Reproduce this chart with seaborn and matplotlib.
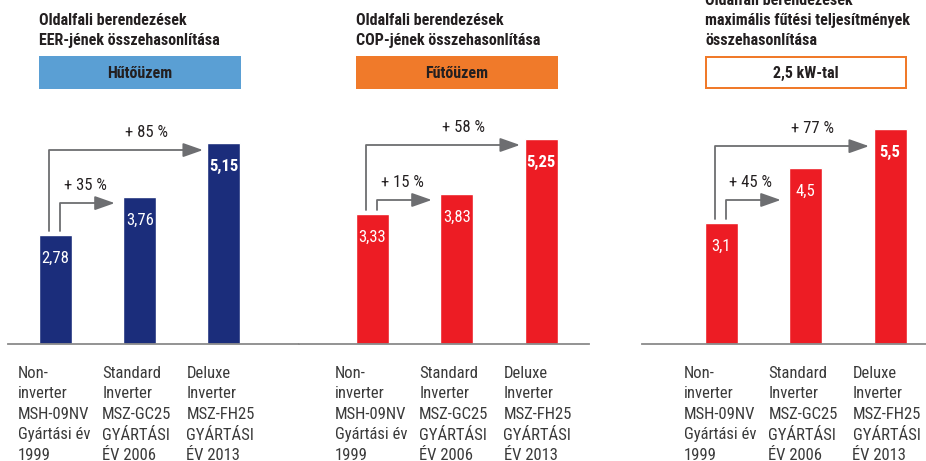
import matplotlib.pyplot as plt
from matplotlib import font_manager
from matplotlib.patches import Rectangle
import seaborn as sns


W, H = 926, 461

categories = [
    "Non-\ninverter\nMSH-09NV\nGyártási év\n1999",
    "Standard\nInverter\nMSZ-GC25\nGYÁRTÁSI\nÉV 2006",
    "Deluxe\nInverter\nMSZ-FH25\nGYÁRTÁSI\nÉV 2013",
]
eer_values = [2.78, 3.76, 5.15]
cop_values = [3.33, 3.83, 5.25]
heat_values = [3.1, 4.5, 5.5]

eer_gain = ["+ 35 %", "+ 85 %"]
cop_gain = ["+ 15 %", "+ 58 %"]
heat_gain = ["+ 45 %", "+ 77 %"]

# height of the elbow arrows (inner, outer)
eer_arrow_levels = [3.60, 4.96]
cop_arrow_levels = [3.68, 5.09]
heat_arrow_levels = [3.68, 5.06]

titles = [
    "Oldalfali berendezések\nEER-jének összehasonlítása",
    "Oldalfali berendezések\nCOP-jének összehasonlítása",
    "Oldalfali berendezések\nmaximális fűtési teljesítmények\nösszehasonlítása",
]
box_labels = ["Hűtőüzem", "Fűtőüzem", "2,5 kW-tal"]

NAVY = "#1b2d7b"
RED = "#ed1c24"
GREY = "#6d6e71"
BASE_GREY = "#8a8a8a"
BOX_BLUE = "#5a9fd4"
ORANGE = "#f07a2a"
TEXT = "#231f20"
LABEL = "#3a3a3a"

_available = {f.name for f in font_manager.fontManager.ttflist}
_narrow = next((n for n in ["Roboto Condensed", "Archivo Narrow", "PT Sans Narrow",
                            "IBM Plex Sans Condensed", "Liberation Sans Narrow",
                            "Liberation Sans"] if n in _available), "DejaVu Sans")
NARROW = [_narrow, "DejaVu Sans"]

PX_UNIT = 39.0      # pixels per unit of value
BASE_Y = 343.5      # baseline, pixels from top
TOP_Y = 100.0       # top of plotting area
STEP = 84.25        # pixels between bars
BAR_PX = 33.0
PT = 0.72           # points per pixel at dpi 100


def fig_x(px):
    return px / W


def fig_y(px):
    return 1 - px / H


def value_text(v):
    return f"{v:g}".replace(".", ",")


def draw_panel(fig, spec):
    c0 = spec["center0"]
    left, right = spec["extent"]
    ax = fig.add_axes([fig_x(left), fig_y(BASE_Y), (right - left) / W, (BASE_Y - TOP_Y) / H])
    half = BAR_PX / STEP / 2

    sns.barplot(x=categories, y=spec["values"], color=spec["color"], saturation=1,
                width=BAR_PX / STEP, ax=ax)
    ax.set_xlim((left - c0) / STEP, (right - c0) / STEP)
    ax.set_ylim(0, (BASE_Y - TOP_Y) / PX_UNIT)
    ax.set_xticks([])
    ax.set_yticks([])
    ax.set_xlabel("")
    ax.set_ylabel("")
    for side in ["top", "left", "right"]:
        ax.spines[side].set_visible(False)
    ax.spines["bottom"].set_color(BASE_GREY)
    ax.spines["bottom"].set_linewidth(1.3)

    vals = spec["values"]
    for i, v in enumerate(vals):
        ax.annotate(value_text(v), xy=(i, v), xytext=(0, -28 * PT), textcoords="offset points",
                    ha="center", va="baseline", color="white", fontsize=12,
                    fontweight="bold" if i == 2 else "normal", family=NARROW)
        # category label, one line at a time
        for j, line in enumerate(categories[i].split("\n")):
            ax.annotate(line, xy=(i - half, 0), xytext=(-21 * PT, -(34.5 + 20.5 * j) * PT),
                        textcoords="offset points", ha="left", va="baseline", color=LABEL,
                        fontsize=12, family=NARROW, annotation_clip=False)

    # elbow arrows: inner to bar 2, outer to bar 3
    starts = [-half + 21 / STEP, -half + 10 / STEP]
    tips = [1 - 25 / STEP, 2 - 21 / STEP]
    text_x = [0.35, 1.08]
    for k in range(2):
        level = spec["levels"][k]
        ax.annotate("", xy=(tips[k], level), xytext=(starts[k], vals[0] + 0.1),
                    arrowprops=dict(arrowstyle="-|>,head_length=12.2,head_width=4.3",
                                    mutation_scale=1, color=GREY, lw=1.3,
                                    shrinkA=0, shrinkB=0,
                                    connectionstyle="angle,angleA=90,angleB=0,rad=0"))
        ax.annotate(spec["gain"][k], xy=(text_x[k], level), xytext=(0, 13 * PT),
                    textcoords="offset points", ha="center", va="baseline",
                    color=TEXT, fontsize=12, family=NARROW)

    # title and header box
    bx0 = c0 - BAR_PX / 2
    bx1 = c0 + 2 * STEP + BAR_PX / 2
    for j, line in enumerate(spec["title"].split("\n")):
        fig.text(fig_x(bx0), fig_y(spec["title_y"] + 20 * j), line, ha="left", va="baseline",
                 fontsize=11.5, fontweight="bold", color=TEXT, family=NARROW)
    if spec["boxed"]:
        rect = Rectangle((fig_x(bx0 + 1), fig_y(88)), (bx1 - bx0 - 2) / W, 31 / H,
                         transform=fig.transFigure, facecolor="white", edgecolor=ORANGE,
                         linewidth=2 * PT)
    else:
        rect = Rectangle((fig_x(bx0), fig_y(89)), (bx1 - bx0) / W, 33 / H,
                         transform=fig.transFigure, facecolor=spec["box_color"], edgecolor="none")
    fig.add_artist(rect)
    fig.text(fig_x((bx0 + bx1) / 2), fig_y(78), spec["box"], ha="center", va="baseline",
             fontsize=11.5, fontweight="bold", color=TEXT, family=NARROW)
    return ax


def main():
    sns.set_theme(style="white")
    plt.rcParams["font.family"] = NARROW
    fig = plt.figure(figsize=(W / 100, H / 100), dpi=100)
    fig.patch.set_facecolor("white")

    panels = [
        dict(values=eer_values, gain=eer_gain, levels=eer_arrow_levels, color=NAVY,
             center0=55.5, extent=(8, 299), title=titles[0], title_y=25,
             box=box_labels[0], box_color=BOX_BLUE, boxed=False),
        dict(values=cop_values, gain=cop_gain, levels=cop_arrow_levels, color=RED,
             center0=372.5, extent=(299, 589), title=titles[1], title_y=25,
             box=box_labels[1], box_color=ORANGE, boxed=False),
        dict(values=heat_values, gain=heat_gain, levels=heat_arrow_levels, color=RED,
             center0=721.5, extent=(642, 926), title=titles[2], title_y=5,
             box=box_labels[2], box_color=None, boxed=True),
    ]
    for spec in panels:
        draw_panel(fig, spec)

    fig.savefig("out.png", dpi=100)
    plt.close(fig)


if __name__ == "__main__":
    main()
